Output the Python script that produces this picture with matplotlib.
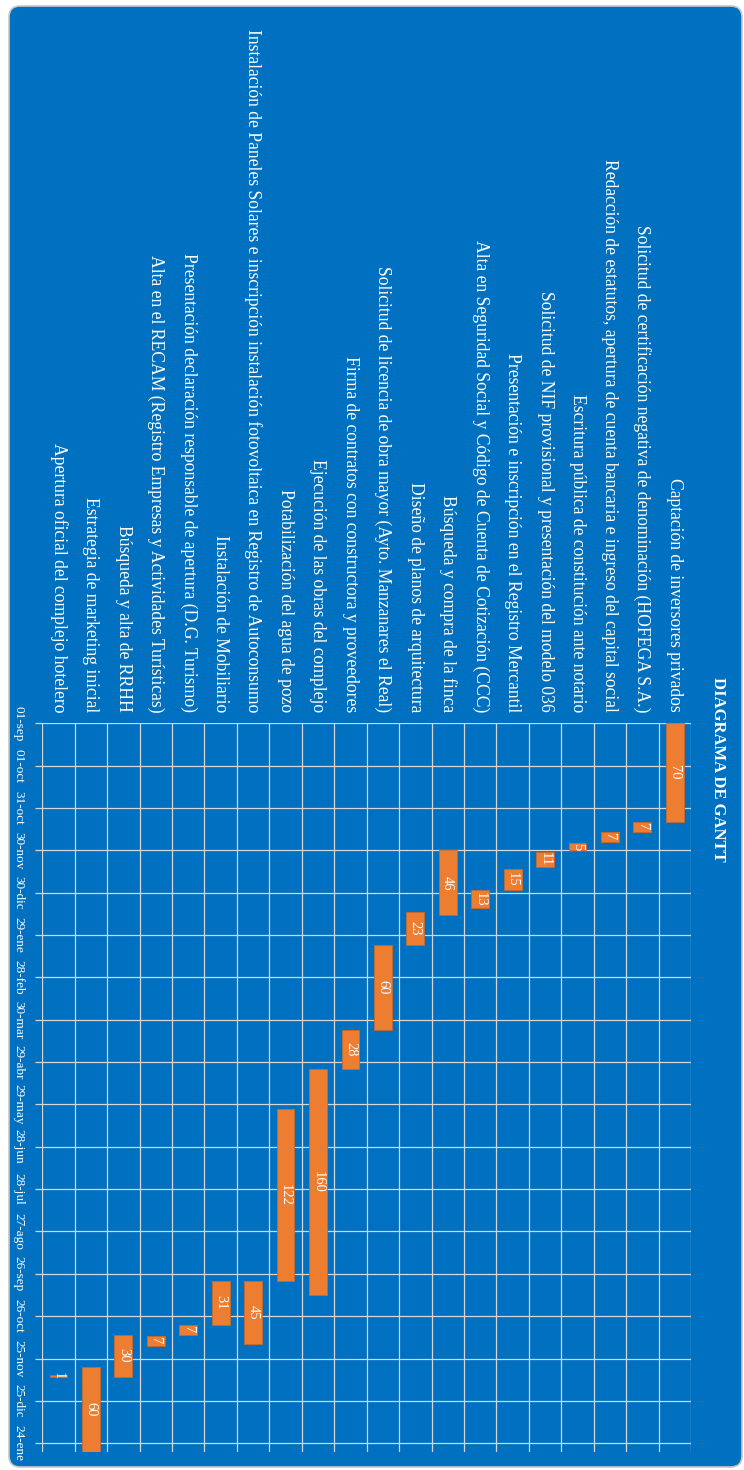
import matplotlib
matplotlib.use("Agg")
import matplotlib.pyplot as plt
from matplotlib.patches import FancyBboxPatch
import numpy as np
import pandas as pd

tasks = [
    "Captación de inversores privados",
    "Solicitud de certificación negativa de denominación (HOFEGA S.A.)",
    "Redacción de estatutos, apertura de cuenta bancaria e ingreso del capital social",
    "Escritura pública de constitución ante notario",
    "Solicitud de NIF provisional y presentación del modelo 036",
    "Presentación e inscripción en el Registro Mercantil",
    "Alta en Seguridad Social y Código de Cuenta de Cotización (CCC)",
    "Búsqueda y compra de la finca",
    "Diseño de planos de arquitectura",
    "Solicitud de licencia de obra mayor (Ayto. Manzanares el Real)",
    "Firma de contratos con constructora y proveedores",
    "Ejecución de las obras del complejo",
    "Potabilización del agua de pozo",
    "Instalación de Paneles Solares e inscripción instalación fotovoltaica en Registro de Autoconsumo",
    "Instalación de Mobiliario",
    "Presentación declaración responsable de apertura (D.G. Turismo)",
    "Alta en el RECAM (Registro Empresas y Actividades Turísticas)",
    "Búsqueda y alta de RRHH",
    "Estrategia de marketing inicial",
    "Apertura oficial del complejo hotelero",
]
start_dates = [
    "2024-09-01", "2024-11-10", "2024-11-17", "2024-11-25", "2024-12-01",
    "2024-12-13", "2024-12-28", "2024-11-30", "2025-01-13", "2025-02-05",
    "2025-04-06", "2025-05-04", "2025-06-01", "2025-10-01", "2025-10-01",
    "2025-11-01", "2025-11-09", "2025-11-08", "2025-12-01", "2025-12-07",
]
durations = [70, 7, 7, 5, 11, 15, 13, 46, 23, 60, 28, 160, 122, 45, 31, 7, 7, 30, 60, 1]
date_labels = [
    "01-sep", "01-oct", "31-oct", "30-nov", "30-dic", "29-ene", "28-feb",
    "30-mar", "29-abr", "29-may", "28-jun", "28-jul", "27-ago", "26-sep",
    "26-oct", "25-nov", "25-dic", "24-ene",
]

project_start = pd.Timestamp("2024-09-01")
offsets = (pd.to_datetime(start_dates) - project_start).days.to_numpy()
ends = offsets + np.array(durations)

BLUE = "#0070C0"
ORANGE = "#ED7D31"
GRID = "#D6D6D6"
W, H = 744, 1470

plt.rcParams["font.family"] = ["Liberation Serif", "DejaVu Serif"]

fig = plt.figure(figsize=(W / 100, H / 100), dpi=100)
fig.patch.set_facecolor("white")

# rounded blue panel behind everything, drawn in pixel units
bg = fig.add_axes([0, 0, 1, 1])
bg.set_xlim(0, W)
bg.set_ylim(H, 0)
bg.axis("off")
bg.add_patch(FancyBboxPatch((9, 6), 733, 1461,
                            boxstyle="round,pad=0,rounding_size=11",
                            fc=BLUE, ec="#C8C8C8", lw=1.2))

ax = fig.add_axes([42.3 / W, 1 - 1451.7 / H, (691 - 42.3) / W, (1451.7 - 723.3) / H])
ax.set_facecolor("none")

n = len(tasks)
x = np.arange(n)
ax.bar(x, durations, bottom=offsets, width=0.55, color=ORANGE,
       edgecolor="#C8692B", linewidth=0.6, zorder=3)
for xi, s, d in zip(x, offsets, durations):
    ax.text(xi, s + d / 2, str(d), rotation=-90, ha="center", va="center",
            color="white", fontsize=10.5, zorder=4)

ax.set_xlim(n - 0.5, -0.5)
ax.set_ylim(ends.max(), 0)

# task names along the top, reading downwards
ax.xaxis.tick_top()
ax.set_xticks(x)
ax.set_xticklabels(tasks, rotation=-90, ha="center", va="bottom",
                   color="white", fontsize=12.7)
ax.set_xticks(np.arange(n + 1) - 0.5, minor=True)
ax.tick_params(axis="x", which="both", length=0, pad=8)

ax.set_yticks(np.arange(len(date_labels)) * 30)
ax.set_yticklabels(date_labels, rotation=-90, ha="right", va="center",
                   color="white", fontsize=9.5)
ax.tick_params(axis="y", length=5, color=GRID, width=0.9, pad=8)

ax.grid(axis="x", which="minor", color=GRID, lw=0.9, zorder=1)
ax.grid(axis="y", which="major", color=GRID, lw=0.9, zorder=1)
ax.set_axisbelow(True)
for sp in ax.spines.values():
    sp.set_visible(False)

fig.text(718 / W, 1 - 769 / H, "DIAGRAMA DE GANTT", rotation=-90,
         ha="center", va="center", color="white", fontsize=12, fontweight="bold")

fig.savefig("out.png", dpi=100, facecolor=fig.get_facecolor())
